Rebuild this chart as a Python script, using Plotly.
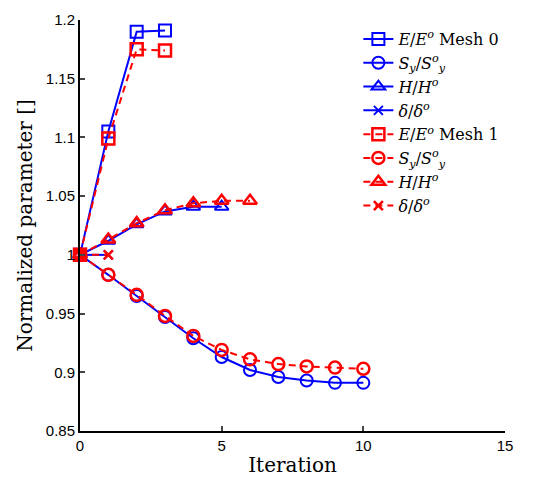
import plotly.graph_objects as go

# Mesh 0 (blue, solid)
iter_E0 = [0, 1, 2, 3]
E0 = [1.0, 1.105, 1.190, 1.191]
iter_S0 = [0, 1, 2, 3, 4, 5, 6, 7, 8, 9, 10]
S0 = [1.0, 0.983, 0.965, 0.947, 0.929, 0.913, 0.902, 0.896, 0.893, 0.891, 0.891]
iter_H0 = [0, 1, 2, 3, 4, 5]
H0 = [1.0, 1.012, 1.026, 1.037, 1.041, 1.041]
iter_D0 = [0, 1]
D0 = [1.0, 1.0]

# Mesh 1 (red, dashed)
iter_E1 = [0, 1, 2, 3]
E1 = [1.0, 1.099, 1.175, 1.174]
iter_S1 = [0, 1, 2, 3, 4, 5, 6, 7, 8, 9, 10]
S1 = [1.0, 0.983, 0.966, 0.948, 0.931, 0.919, 0.911, 0.907, 0.905, 0.904, 0.903]
iter_H1 = [0, 1, 2, 3, 4, 5, 6]
H1 = [1.0, 1.013, 1.027, 1.038, 1.044, 1.046, 1.046]
iter_D1 = [0, 1]
D1 = [1.0, 1.0]

names0 = ["<i>E</i>/<i>E</i><sup><i>o</i></sup> Mesh 0", "<i>S<sub>y</sub></i>/<i>S</i><sup><i>o</i></sup><sub><i>y</i></sub>",
          "<i>H</i>/<i>H</i><sup><i>o</i></sup>", "<i>δ</i>/<i>δ</i><sup><i>o</i></sup>"]
names1 = ["<i>E</i>/<i>E</i><sup><i>o</i></sup> Mesh 1", "<i>S<sub>y</sub></i>/<i>S</i><sup><i>o</i></sup><sub><i>y</i></sub>",
          "<i>H</i>/<i>H</i><sup><i>o</i></sup>", "<i>δ</i>/<i>δ</i><sup><i>o</i></sup>"]

yticks = [0.85, 0.9, 0.95, 1.0, 1.05, 1.1, 1.15, 1.2]
yticktext = ["0.85", "0.9", "0.95", "1", "1.05", "1.1", "1.15", "1.2"]
xticks = [0, 5, 10, 15]

symbols = ["square-open", "circle-open", "triangle-up-open", "x-thin-open"]

SERIF = "DejaVu Serif, Liberation Serif"

fig = go.Figure()
series0 = [(iter_E0, E0), (iter_S0, S0), (iter_H0, H0), (iter_D0, D0)]
series1 = [(iter_E1, E1), (iter_S1, S1), (iter_H1, H1), (iter_D1, D1)]
for (xs, ys), nm, sym in zip(series0, names0, symbols):
    fig.add_trace(go.Scatter(x=xs, y=ys, name=nm, mode="lines+markers", cliponaxis=False,
                             line=dict(color="#0000ff", width=2),
                             marker=dict(symbol=sym, size=12 if sym != "x-thin-open" else 9,
                                         color="#0000ff", line=dict(width=2, color="#0000ff"))))
for (xs, ys), nm, sym in zip(series1, names1, symbols):
    fig.add_trace(go.Scatter(x=xs, y=ys, name=nm, mode="lines+markers", cliponaxis=False,
                             line=dict(color="#ff0000", width=2, dash="7px,5px"),
                             marker=dict(symbol=sym, size=12 if sym != "x-thin-open" else 9,
                                         color="#ff0000", line=dict(width=2.5, color="#ff0000"))))

# page body has an 8px default margin: compensate in size and margins
fig.update_layout(
    width=533, height=469,
    margin=dict(l=72, r=36, t=12, b=46, autoexpand=False),
    paper_bgcolor="white", plot_bgcolor="white",
    font=dict(family="Liberation Sans, Arial", size=14, color="black"),
    showlegend=True,
    legend=dict(x=0.655, y=0.995, xanchor="left", yanchor="top",
                font=dict(family=SERIF, size=16, color="black"),
                bgcolor="rgba(0,0,0,0)", tracegroupgap=0, itemwidth=30),
    xaxis=dict(range=[0, 15], tickvals=xticks, ticks="inside", ticklen=5, tickwidth=1.5,
               showline=True, linecolor="black", linewidth=2, showgrid=False, zeroline=False,
               automargin=False,
               tickfont=dict(family="Liberation Sans, Arial", size=15),
               title=dict(text="Iteration", font=dict(family=SERIF, size=20), standoff=10)),
    yaxis=dict(range=[0.85, 1.2], tickvals=yticks, ticktext=yticktext, ticks="inside", ticklen=5, tickwidth=1.5,
               showline=True, linecolor="black", linewidth=2, showgrid=False, zeroline=False,
               automargin=False,
               tickfont=dict(family="Liberation Sans, Arial", size=15),
               title=dict(text="Normalized parameter []", font=dict(family=SERIF, size=20), standoff=8)),
)

fig.write_html("out.html")
